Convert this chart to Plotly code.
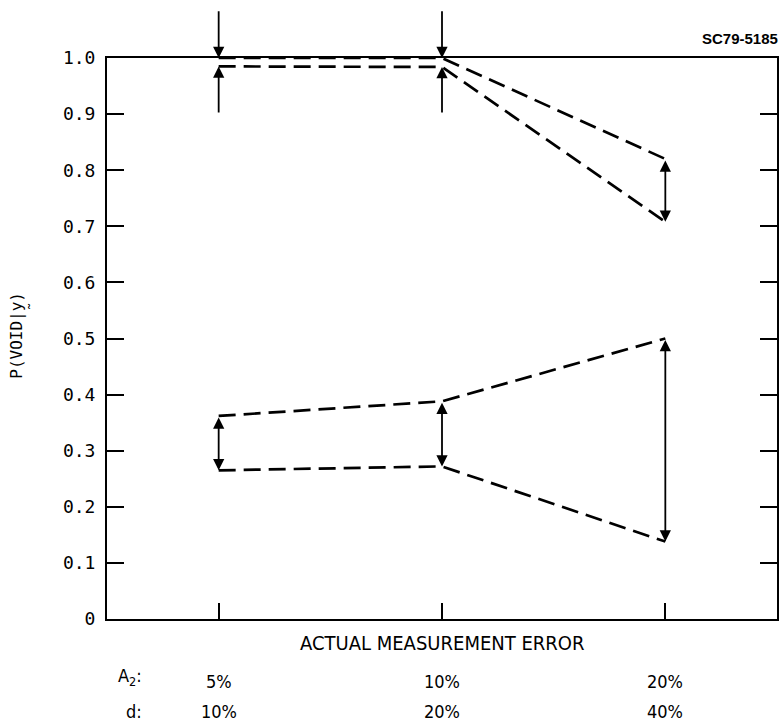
import plotly.graph_objects as go

# categories (actual measurement error)
cat_pos = [1, 2, 3]
a2_labels = ["5%", "10%", "20%"]
d_labels = ["10%", "20%", "40%"]

# upper band (high-probability pair)
hi_upper = [1.0, 1.0, 0.82]
hi_lower = [0.985, 0.984, 0.708]

# lower band
lo_upper = [0.362, 0.388, 0.50]
lo_lower = [0.265, 0.272, 0.138]

ytick_vals = [0, 0.1, 0.2, 0.3, 0.4, 0.5, 0.6, 0.7, 0.8, 0.9, 1.0]
ytick_text = ["0", "0.1", "0.2", "0.3", "0.4", "0.5", "0.6", "0.7", "0.8", "0.9", "1.0"]

NARROW = "Liberation Sans Narrow, DejaVu Sans Condensed, Arial Narrow, sans-serif"
MONO = "DejaVu Sans Mono, monospace"

fig = go.Figure()
dash_style = dict(color="black", width=2.7, dash="17px,8px")
for ys in (hi_upper, hi_lower, lo_upper, lo_lower):
    fig.add_trace(go.Scatter(x=cat_pos, y=ys, mode="lines", line=dash_style,
                             showlegend=False, hoverinfo="skip"))

ann = []
arrow_common = dict(text="", showarrow=True, xref="x", yref="y", axref="x", ayref="y",
                    arrowhead=2, arrowsize=1.25, arrowwidth=1.8, arrowcolor="black",
                    standoff=0, startstandoff=0)
# single arrows pointing at the narrow top band (x=1 and x=2)
for i in (0, 1):
    ann.append(dict(x=cat_pos[i], y=hi_upper[i], ax=cat_pos[i], ay=1.086, **arrow_common))
    ann.append(dict(x=cat_pos[i], y=hi_lower[i], ax=cat_pos[i], ay=0.9, **arrow_common))
# double arrows
ann.append(dict(x=cat_pos[2], y=hi_lower[2], ax=cat_pos[2], ay=hi_upper[2],
                arrowside="end+start", startarrowhead=2, startarrowsize=1.25, **arrow_common))
for i in range(3):
    ann.append(dict(x=cat_pos[i], y=lo_lower[i], ax=cat_pos[i], ay=lo_upper[i],
                    arrowside="end+start", startarrowhead=2, startarrowsize=1.25, **arrow_common))

txt_font = dict(family=NARROW, size=18, color="black")
# bottom labels
ann.append(dict(text="ACTUAL MEASUREMENT ERROR", x=2, xref="x", y=0, yref="paper",
                yanchor="middle", yshift=-24, showarrow=False,
                font=dict(family=NARROW, size=20, color="black")))
for i in range(3):
    ann.append(dict(text=a2_labels[i], x=cat_pos[i], xref="x", y=0, yref="paper",
                    yanchor="middle", yshift=-62, showarrow=False, font=txt_font))
    ann.append(dict(text=d_labels[i], x=cat_pos[i], xref="x", y=0, yref="paper",
                    yanchor="middle", yshift=-92, showarrow=False, font=txt_font))
ann.append(dict(text="A<sub>2</sub>:", x=0, xref="paper", xanchor="right", xshift=37,
                y=0, yref="paper", yanchor="middle", yshift=-58, showarrow=False, font=txt_font))
ann.append(dict(text="d:", x=0, xref="paper", xanchor="right", xshift=37,
                y=0, yref="paper", yanchor="middle", yshift=-92, showarrow=False, font=txt_font))
# y title
ann.append(dict(text="P(VOID|y\u0330)", x=0, xref="paper", xanchor="center", xshift=-89,
                y=0.505, yref="paper", yanchor="middle",
                textangle=-90, showarrow=False, font=dict(family=MONO, size=16, color="black")))
# figure id
ann.append(dict(text="<b>SC79-5185</b>", x=1, xref="paper", xanchor="right", xshift=3,
                y=1, yref="paper", yanchor="middle", yshift=20, showarrow=False,
                font=dict(family="Liberation Sans, Arial, sans-serif", size=15, color="black")))

fig.update_layout(
    width=783, height=721,
    margin=dict(l=107, r=4, t=58, b=102),
    paper_bgcolor="white", plot_bgcolor="white",
    annotations=ann,
    xaxis=dict(range=[0.5, 3.5], tickvals=cat_pos, showticklabels=False, ticks="inside",
               ticklen=16, tickwidth=2, tickcolor="black", showline=True, linewidth=2,
               linecolor="black", mirror=True, showgrid=False, zeroline=False),
    yaxis=dict(range=[0, 1.0], tickvals=ytick_vals, ticktext=ytick_text, ticks="inside",
               ticklen=17, tickwidth=2, tickcolor="black", showline=True, linewidth=2,
               linecolor="black", mirror="ticks", showgrid=False, zeroline=False,
               ticklabelstandoff=6,
               tickfont=dict(family=MONO, size=18, color="black")),
)

fig.write_html("out.html", config={"displayModeBar": False},
               post_script="document.body.style.margin='0';")
